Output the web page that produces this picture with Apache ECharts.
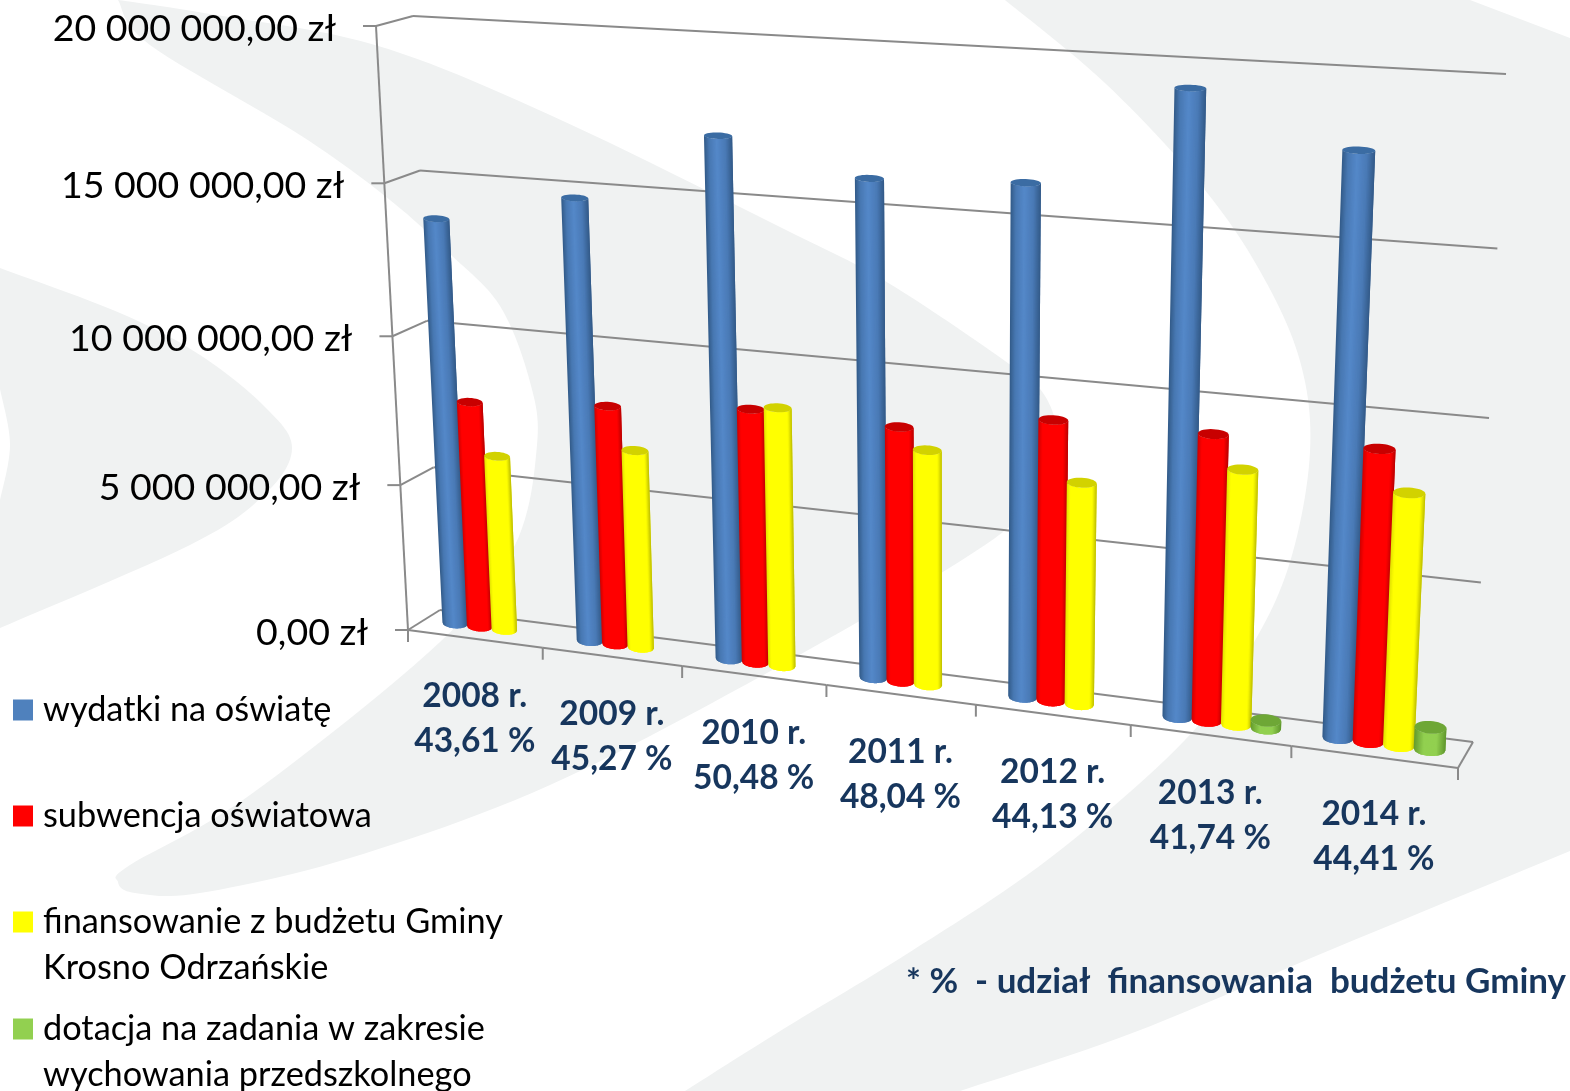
<!DOCTYPE html>
<html><head><meta charset="utf-8">
<style>html,body{margin:0;padding:0;background:#fff}#c{width:1570px;height:1091px}</style>
<script src="https://cdn.jsdelivr.net/npm/echarts@6/dist/echarts.min.js"></script>
</head><body><div id="c"></div>
<script>
// ---- data ----
const categories = ['2008 r.','2009 r.','2010 r.','2011 r.','2012 r.','2013 r.','2014 r.'];
const shares = ['43,61 %','45,27 %','50,48 %','48,04 %','44,13 %','41,74 %','44,41 %'];
const wydatki = [13700000,14720000,17000000,16000000,16200000,19300000,17800000];
const subwencja = [7700000,8030000,8400000,8300000,9000000,9040000,9080000];
const finansowanie = [5960000,6650000,8530000,7650000,7120000,8040000,7840000];
const dotacja = [null,null,null,null,null,250000,700000];
const valueTicks = [0,5000000,10000000,15000000,20000000];
const valueTickLabels = ['0,00 zł','5 000 000,00 zł','10 000 000,00 zł','15 000 000,00 zł','20 000 000,00 zł'];
const seriesNames = ['wydatki na oświatę','subwencja oświatowa','finansowanie z budżetu Gminy Krosno Odrzańskie','dotacja na zadania w zakresie wychowania przedszkolnego'];
const footnote = '* %  - udział  finansowania  budżetu Gminy';

// ---- perspective of the 3D box (style, not data) ----
const BACK  = [[440,610],[1473,742],[1506,74],[413,16]];
const FRONT = [[408,630],[1458,768],[1489,88],[376,26]];
const FONT = 'Lato';
const NAVY = '#17365d';
const LINE = '#8a8a8a';
const BAR_DEPTH = 0.47, RING = 0.25, HALF = 0.095, STEP = 0.185, SHIFT = 0.005, STRIPS = 26, TILT = 0.5;

function project(u, v, depth) {
  const q = [0,1,2,3].map(i => [BACK[i][0] + (FRONT[i][0]-BACK[i][0])*depth, BACK[i][1] + (FRONT[i][1]-BACK[i][1])*depth]);
  const [x0,y0]=q[0],[x1,y1]=q[1],[x2,y2]=q[2],[x3,y3]=q[3];
  const dx1=x1-x2, dx2=x3-x2, sx=x0-x1+x2-x3, dy1=y1-y2, dy2=y3-y2, sy=y0-y1+y2-y3;
  const den=dx1*dy2-dx2*dy1;
  const g=(sx*dy2-dx2*sy)/den, h=(dx1*sy-sx*dy1)/den;
  const a=x1-x0+g*x1, b=x3-x0+h*x3, d=y1-y0+g*y1, e=y3-y0+h*y3;
  const w=g*u+h*v+1;
  return [(a*u+b*v+x0)/w, (d*u+e*v+y0)/w];
}
function unit(params, api, cat, val) {
  const cs = params.coordSys, p = api.coord([cat, val]);
  return [(p[0]-cs.x)/cs.width, 1-(p[1]-cs.y)/cs.height, api.size([1,0])[0]/cs.width];
}
function mix(stops, t) {
  for (let i=1;i<stops.length;i++) if (t<=stops[i][0]) {
    const [t0,c0]=stops[i-1],[t1,c1]=stops[i],k=(t-t0)/(t1-t0);
    return 'rgb('+c0.map((c,j)=>Math.round(c+(c1[j]-c)*k)).join(',')+')';
  }
  return 'rgb('+stops[stops.length-1][1].join(',')+')';
}
const SHADES = [
  {flat:'#4f81bd',cap:'#3b6ca3',stops:[[0,[50,90,135]],[.18,[72,120,178]],[.45,[84,136,201]],[.75,[74,122,182]],[1,[50,90,135]]]},
  {flat:'#ff0000',cap:'#c80000',stops:[[0,[205,0,0]],[.14,[255,0,0]],[.84,[255,0,0]],[1,[185,0,0]]]},
  {flat:'#ffff00',cap:'#d2d200',stops:[[0,[225,225,0]],[.12,[255,255,0]],[.85,[255,255,0]],[1,[190,190,0]]]},
  {flat:'#92d050',cap:'#6ea736',stops:[[0,[100,155,45]],[.3,[146,208,80]],[.7,[146,208,80]],[1,[95,150,45]]]}
];
function ringPoint(cx, half, val01, c, s) {
  const p = project(cx + half*c, val01, BAR_DEPTH);
  const m = project(cx, val01, BAR_DEPTH);
  const a = project(cx, val01, 0), b = project(cx, val01, 1);
  return [p[0], m[1] + (p[1]-m[1])*TILT + s*RING*Math.abs(b[1]-a[1])];
}
function barRenderer(si) {
  const shade = SHADES[si];
  return function (params, api) {
    const val = api.value(1);
    if (val == null || isNaN(val)) return null;
    const cat = api.value(0);
    const [uMid, vTop, band] = unit(params, api, cat, val);
    const v0 = unit(params, api, cat, 0)[1];
    const cx = uMid + ((si-1.5)*STEP + SHIFT)*band, half = HALF*band;
    const children = [];
    // evenly wide strips, each painted up to the next so no seams show
    const edge = t => { const c = 2*t-1; return [c, Math.sqrt(Math.max(0,1-c*c))]; };
    for (let i=0;i<STRIPS;i++) {
      const pts=[ringPoint(cx,half,v0,...edge(i/STRIPS))];
      const n=Math.min(STRIPS,i+2);
      for(let k=i+1;k<=n;k++) pts.push(ringPoint(cx,half,v0,...edge(k/STRIPS)));
      for(let k=n;k>=i;k--) pts.push(ringPoint(cx,half,vTop,...edge(k/STRIPS)));
      children.push({type:'polygon', shape:{points:pts}, style:{fill:mix(shade.stops,(i+.5)/STRIPS)}});
    }
    const cap=[];
    for (let i=0;i<36;i++){const a=i/36*2*Math.PI;cap.push(ringPoint(cx,half,vTop,Math.cos(a),Math.sin(a)));}
    children.push({type:'polygon', shape:{points:cap}, style:{fill:shade.cap}});
    return {type:'group', children};
  };
}
function seg(a,b,w){return {type:'line',shape:{x1:a[0],y1:a[1],x2:b[0],y2:b[1]},style:{stroke:LINE,lineWidth:w||2}};}
function frameRenderer(params, api) {
  const i = params.dataIndex, val = api.value(1);
  const v = unit(params, api, 0, val)[1];
  const bl = project(0,v,0), br = project(1,v,0), fl = project(0,v,1);
  const out = [seg(bl,br), seg(bl,fl), seg(fl,[fl[0]-13,fl[1]])];
  if (i<valueTicks.length-1) {
    const up = project(0, unit(params, api, 0, valueTicks[i+1])[1], 1);
    out.push(seg(fl,up));
  }
  out.push({type:'text',style:{x:fl[0]-40,y:fl[1]+2.5,text:valueTickLabels[i],align:'right',verticalAlign:'middle',font:'37.5px '+FONT,fill:'#000'}});
  return {type:'group',children:out};
}
function floorRenderer(params, api) {
  const i = params.dataIndex;
  const [u, v, band] = unit(params, api, i, 0);
  const u0=u-band/2, u1=u+band/2;
  const a=project(u0,v,1), b=project(u1,v,1), m=project(u,v,1);
  const out=[seg(a,b), seg(b,[b[0],b[1]+12])];
  if (i===0) out.push(seg(a,[a[0],a[1]+12]));
  if (i===categories.length-1) out.push(seg(b,project(1,v,0)));
  out.push({type:'text',style:{x:m[0],y:m[1]+80,text:categories[i]+'\n'+shares[i],align:'center',verticalAlign:'middle',
    font:'bold 33.5px '+FONT,lineHeight:45,fill:NAVY}});
  return {type:'group',children:out};
}
// smooth decorative swooshes behind the chart
function chain(pts){
  const out=[];
  for(let i=0;i<pts.length-1;i++){
    const p0=pts[Math.max(i-1,0)],p1=pts[i],p2=pts[i+1],p3=pts[Math.min(i+2,pts.length-1)];
    const c1=[p1[0]+(p2[0]-p0[0])/6,p1[1]+(p2[1]-p0[1])/6],c2=[p2[0]-(p3[0]-p1[0])/6,p2[1]-(p3[1]-p1[1])/6];
    for(let k=0;k<12;k++){
      const t=k/12,s=1-t;
      out.push([s*s*s*p1[0]+3*s*s*t*c1[0]+3*s*t*t*c2[0]+t*t*t*p2[0],s*s*s*p1[1]+3*s*s*t*c1[1]+3*s*t*t*c2[1]+t*t*t*p2[1]]);
    }
  }
  out.push(pts[pts.length-1]);
  return out;
}
const BG='#f0f2f2';
const right=[[1005,0],[1470,0],[1570,38],...chain([[1570,851],[1335,948],[1135,1032],[960,1091]]),
  ...chain([[685,1091],[785,1028],[910,952],[1050,858],[1185,740],[1250,649],[1290,562],[1310,452],[1300,361],[1260,271],[1200,184],[1105,83],[1005,0]])];
const band=chain([[118,0],[210,14],[375,45],[550,115],[784,229],[885,281],[1005,361],[1045,396],[1058,445],[1040,490],[985,545],[785,663],[550,785],[350,858],[200,893],[135,893],[118,882],[130,865],[250,795],[440,642],[515,545],[537,445],[530,382],[500,306],[450,254],[390,200],[300,135],[150,45],[118,0]]);
const left=[...chain([[0,268],[120,313],[200,355],[265,407],[292,448],[265,494],[190,545],[0,628]]),...chain([[0,500],[10,445],[0,389]])];
const shapes=[right,band,left].map(p=>({type:'polygon',shape:{points:p},style:{fill:BG},silent:true,z:-10}));

const legendTops=[687,793,853,960];
const legendText={[seriesNames[2]]:'\nfinansowanie z budżetu Gminy\nKrosno Odrzańskie',[seriesNames[3]]:'\ndotacja na zadania w zakresie\nwychowania przedszkolnego'};
const colors=SHADES.map(s=>s.flat);
const values=[wydatki,subwencja,finansowanie,dotacja];

const chart=echarts.init(document.getElementById('c'));
chart.setOption({
  animation:false,backgroundColor:'#fff',
  grid:{left:100,top:40,width:1000,height:1000},
  xAxis:{type:'category',data:categories,show:false},
  yAxis:{type:'value',min:0,max:20000000,interval:5000000,show:false},
  legend:seriesNames.map((n,i)=>({data:[n],left:13,top:legendTops[i],padding:0,selectedMode:false,icon:'rect',itemWidth:20,itemHeight:21,
    formatter:x=>legendText[x]||x,textStyle:{fontFamily:FONT,fontSize:34.3,lineHeight:46,color:'#000',padding:[0,0,0,5]}})),
  graphic:{elements:[...shapes,{type:'text',left:906,top:964,style:{text:footnote,font:'bold 35px '+FONT,fill:NAVY},z:5}]},
  series:[
    {type:'custom',name:'frame',silent:true,renderItem:frameRenderer,clip:false,z:1,encode:{x:0,y:1},data:valueTicks.map(v=>[0,v])},
    {type:'custom',name:'floor',silent:true,renderItem:floorRenderer,clip:false,z:1,encode:{x:0,y:1},data:categories.map((c,i)=>[i,0])},
    ...seriesNames.map((n,i)=>({type:'custom',name:n,renderItem:barRenderer(i),clip:false,z:3+i,itemStyle:{color:colors[i]},encode:{x:0,y:1},
      data:values[i].map((v,j)=>[j,v])}))
  ]
});
</script></body></html>
